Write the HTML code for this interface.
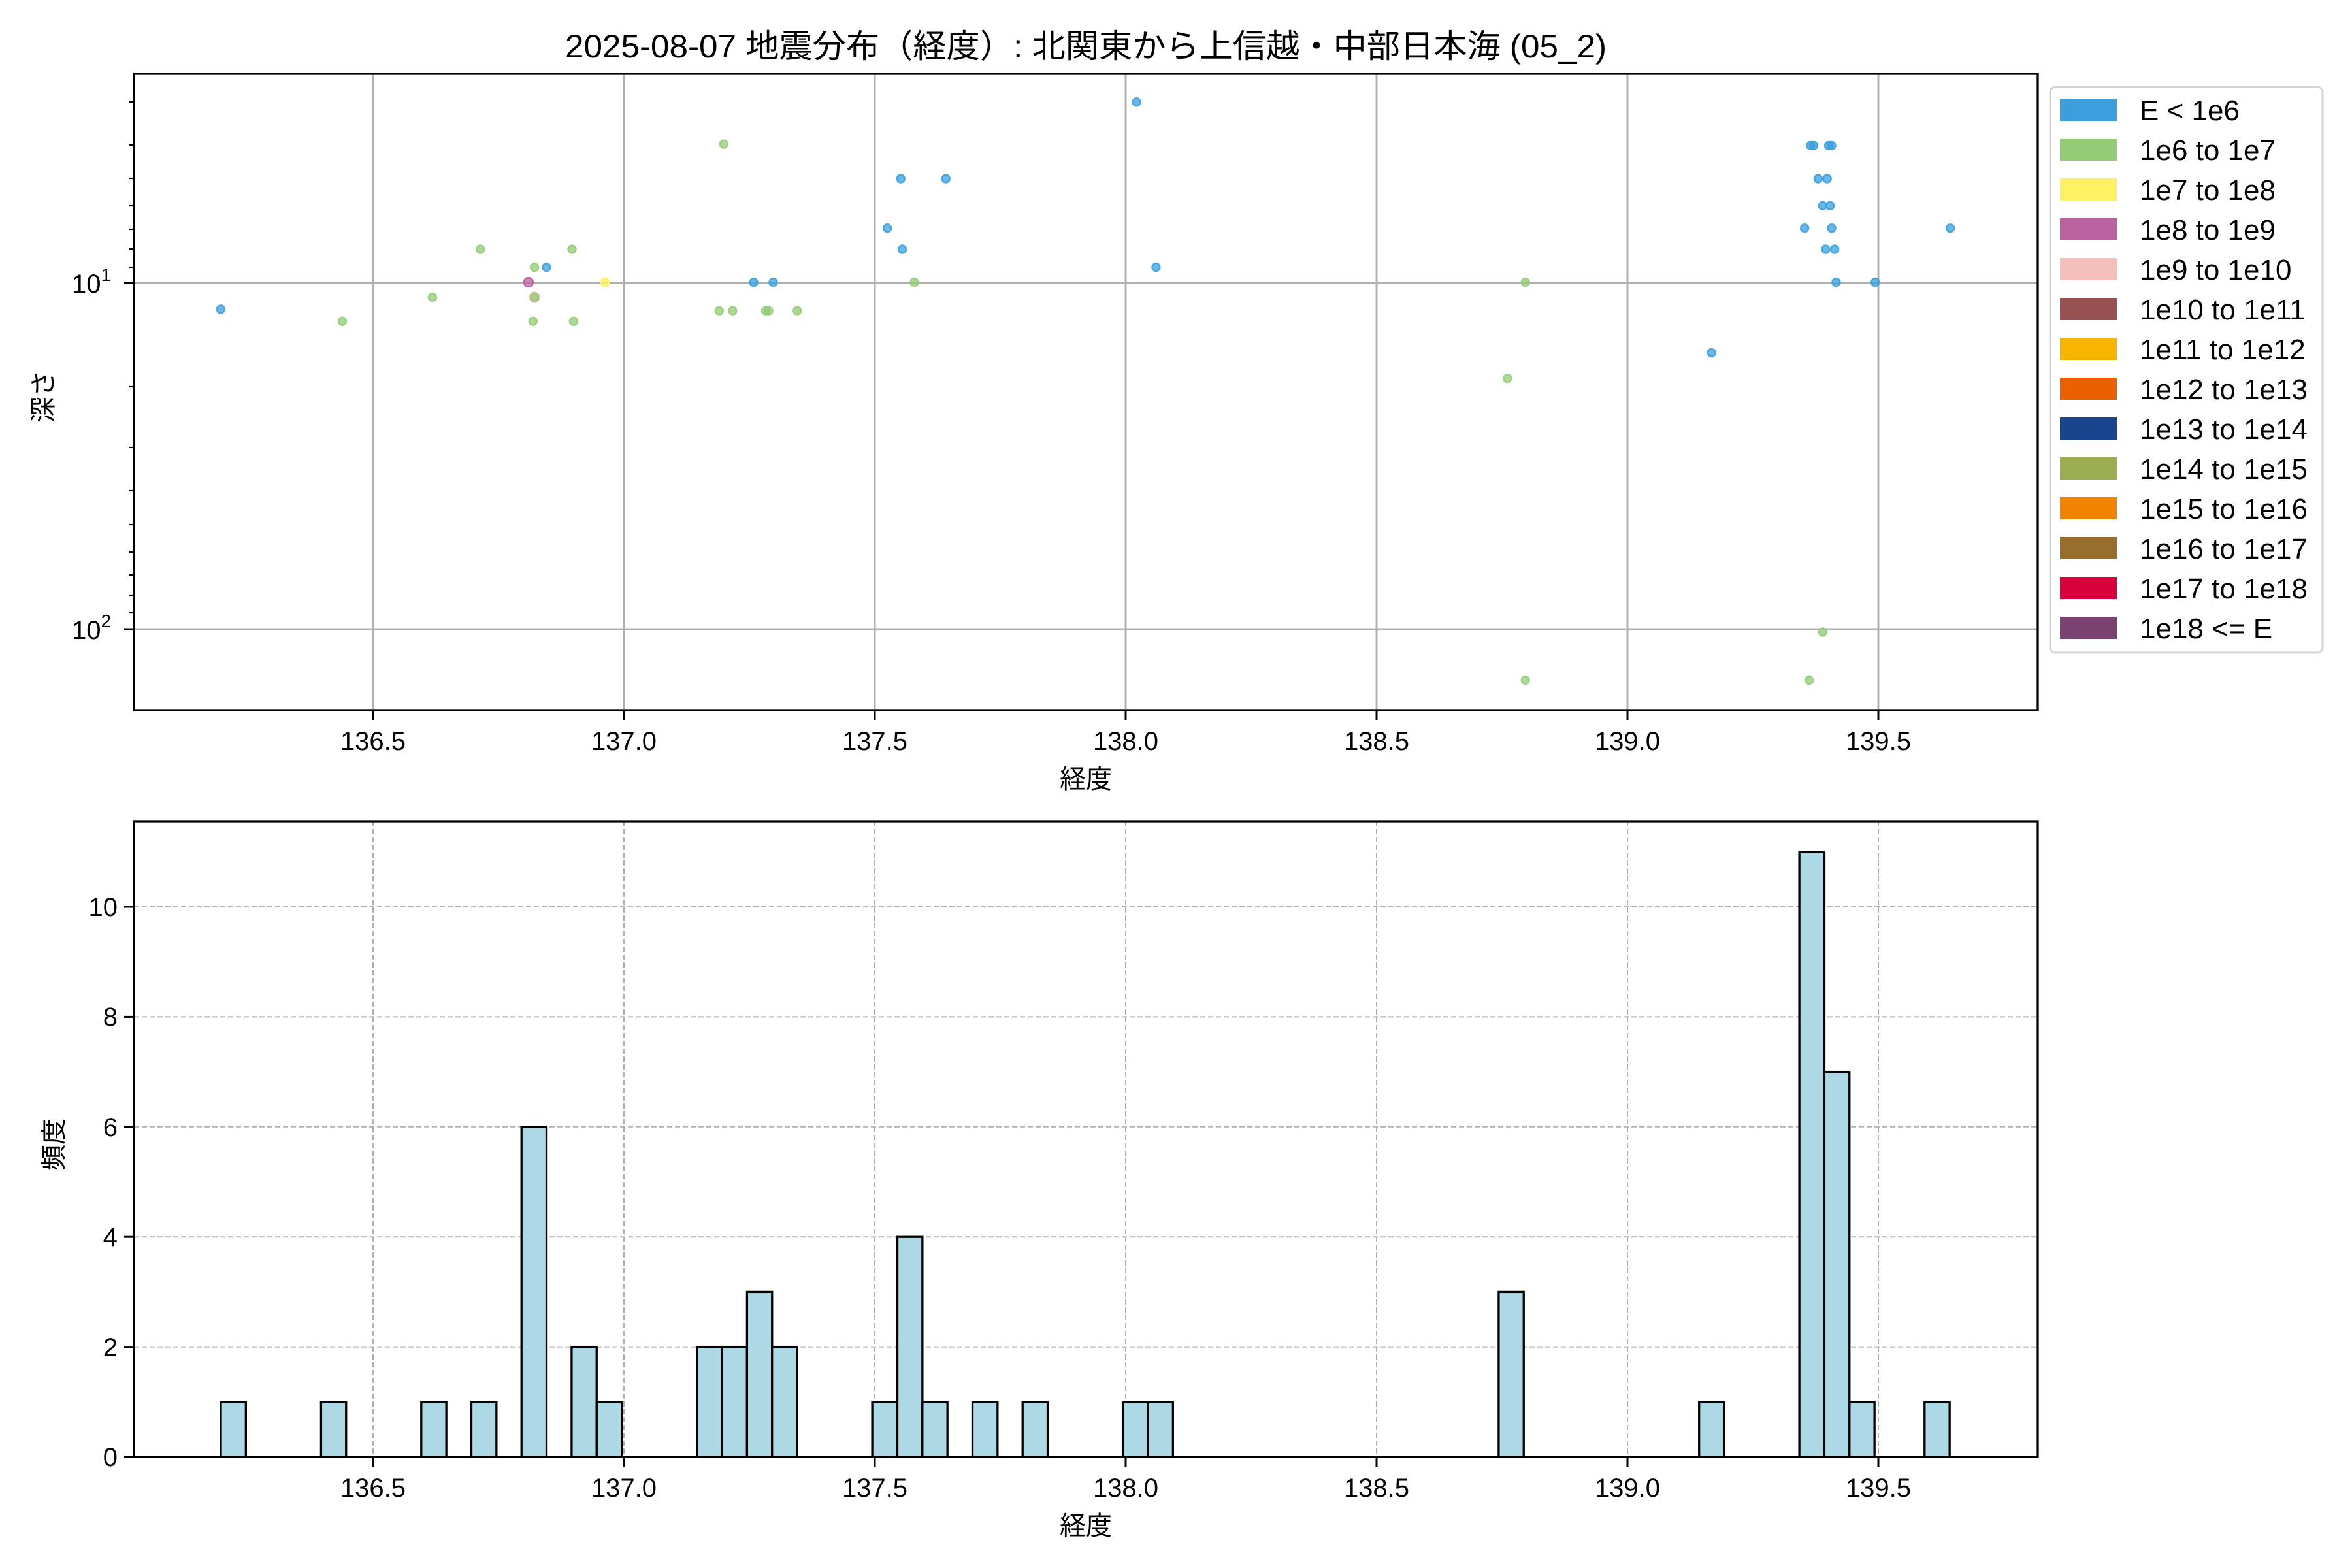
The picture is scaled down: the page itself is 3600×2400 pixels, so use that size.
<!DOCTYPE html>
<html><head><meta charset="utf-8"><style>html,body{margin:0;padding:0;background:#fff}svg{display:block}text{font-family:"Liberation Sans","Noto Sans CJK JP",sans-serif;fill:#000}</style></head>
<body>
<svg width="3600" height="2400" viewBox="0 0 3600 2400" xmlns="http://www.w3.org/2000/svg">
<rect width="3600" height="2400" fill="#fff"/>
<text x="1662" y="88" font-size="50" text-anchor="middle" textLength="1594" lengthAdjust="spacingAndGlyphs">2025-08-07 地震分布（経度）: 北関東から上信越・中部日本海 (05_2)</text>

<!-- TOP AXES -->
<g stroke="#b0b0b0" stroke-width="3">
<line x1="571" y1="113" x2="571" y2="1087"/><line x1="955" y1="113" x2="955" y2="1087"/><line x1="1339" y1="113" x2="1339" y2="1087"/><line x1="1723" y1="113" x2="1723" y2="1087"/><line x1="2107" y1="113" x2="2107" y2="1087"/><line x1="2491" y1="113" x2="2491" y2="1087"/><line x1="2875" y1="113" x2="2875" y2="1087"/>
<line x1="205" y1="433" x2="3119" y2="433"/><line x1="205" y1="963" x2="3119" y2="963"/>
</g>
<g transform="scale(2.298)" stroke-width="1.1">
<g fill="#3a9fdc" stroke="#3a9fdc" fill-opacity="0.75" stroke-opacity="0.85">
<circle cx="147" cy="206" r="2.6"/><circle cx="364" cy="178" r="2.6"/><circle cx="502" cy="188" r="2.6"/><circle cx="515" cy="188" r="2.6"/><circle cx="591" cy="152" r="2.6"/><circle cx="600" cy="119" r="2.6"/><circle cx="601" cy="166" r="2.6"/><circle cx="630" cy="119" r="2.6"/><circle cx="757" cy="68" r="2.6"/><circle cx="770" cy="178" r="2.6"/><circle cx="1140" cy="235" r="2.6"/><circle cx="1202" cy="152" r="2.6"/><circle cx="1206" cy="97" r="2.6"/><circle cx="1208" cy="97" r="2.6"/><circle cx="1211" cy="119" r="2.6"/><circle cx="1214" cy="137" r="2.6"/><circle cx="1216" cy="166" r="2.6"/><circle cx="1217" cy="119" r="2.6"/><circle cx="1218" cy="97" r="2.6"/><circle cx="1219" cy="137" r="2.6"/><circle cx="1220" cy="152" r="2.6"/><circle cx="1222" cy="166" r="2.6"/><circle cx="1223" cy="188" r="2.6"/><circle cx="1249" cy="188" r="2.6"/><circle cx="1299" cy="152" r="2.6"/><circle cx="1220" cy="97" r="2.6"/>
</g>
<circle cx="356" cy="198" r="3.2" fill="#f5bfbc" stroke="#f5bfbc" fill-opacity="0.75"/>
<g fill="#93cb77" stroke="#93cb77" fill-opacity="0.75" stroke-opacity="0.85">
<circle cx="228" cy="214" r="2.6"/><circle cx="288" cy="198" r="2.6"/><circle cx="320" cy="166" r="2.6"/><circle cx="356" cy="178" r="2.6"/><circle cx="356" cy="198" r="2.6"/><circle cx="355" cy="214" r="2.6"/><circle cx="381" cy="166" r="2.6"/><circle cx="382" cy="214" r="2.6"/><circle cx="482" cy="96" r="2.6"/><circle cx="479" cy="207" r="2.6"/><circle cx="488" cy="207" r="2.6"/><circle cx="510" cy="207" r="2.6"/><circle cx="512" cy="207" r="2.6"/><circle cx="531" cy="207" r="2.6"/><circle cx="609" cy="188" r="2.6"/><circle cx="1016" cy="188" r="2.6"/><circle cx="1004" cy="252" r="2.6"/><circle cx="1214" cy="421" r="2.6"/><circle cx="1016" cy="453" r="2.6"/><circle cx="1205" cy="453" r="2.6"/>
</g>
<circle cx="352" cy="188" r="3" fill="#ba629f" stroke="#ba629f" fill-opacity="0.75"/>
<circle cx="403" cy="188" r="2.6" fill="#fef262" stroke="#fef262" fill-opacity="0.8"/>
</g>
<rect x="205" y="113" width="2914" height="974" fill="none" stroke="#000" stroke-width="3.3"/>
<g stroke="#000" stroke-width="3">
<line x1="571" y1="1087" x2="571" y2="1102"/><line x1="955" y1="1087" x2="955" y2="1102"/><line x1="1339" y1="1087" x2="1339" y2="1102"/><line x1="1723" y1="1087" x2="1723" y2="1102"/><line x1="2107" y1="1087" x2="2107" y2="1102"/><line x1="2491" y1="1087" x2="2491" y2="1102"/><line x1="2875" y1="1087" x2="2875" y2="1102"/>
<line x1="190" y1="433" x2="205" y2="433"/><line x1="190" y1="963" x2="205" y2="963"/>
</g>
<g stroke="#000" stroke-width="2.2">
<line x1="197" y1="156" x2="205" y2="156"/><line x1="197" y1="222" x2="205" y2="222"/><line x1="197" y1="273" x2="205" y2="273"/><line x1="197" y1="315" x2="205" y2="315"/><line x1="197" y1="351" x2="205" y2="351"/><line x1="197" y1="381" x2="205" y2="381"/><line x1="197" y1="409" x2="205" y2="409"/>
<line x1="197" y1="592" x2="205" y2="592"/><line x1="197" y1="685" x2="205" y2="685"/><line x1="197" y1="751" x2="205" y2="751"/><line x1="197" y1="803" x2="205" y2="803"/><line x1="197" y1="845" x2="205" y2="845"/><line x1="197" y1="880" x2="205" y2="880"/><line x1="197" y1="911" x2="205" y2="911"/><line x1="197" y1="938" x2="205" y2="938"/>
</g>
<g font-size="40" text-anchor="middle">
<text x="571" y="1148">136.5</text><text x="955" y="1148">137.0</text><text x="1339" y="1148">137.5</text><text x="1723" y="1148">138.0</text><text x="2107" y="1148">138.5</text><text x="2491" y="1148">139.0</text><text x="2875" y="1148">139.5</text>
<text x="1662" y="1206">経度</text>
</g>
<text x="140" y="448" font-size="40" text-anchor="middle">10<tspan font-size="28" dy="-18">1</tspan></text>
<text x="140" y="978" font-size="40" text-anchor="middle">10<tspan font-size="28" dy="-18">2</tspan></text>
<text x="0" y="0" font-size="40" text-anchor="middle" transform="translate(80,607) rotate(-90)">深さ</text>

<!-- LEGEND -->
<rect x="3138" y="133" width="417" height="866" rx="8" fill="#fff" stroke="#d5d5d5" stroke-width="3"/>
<g>
<rect x="3153" y="151" width="87" height="34" fill="#3a9fdc"/>
<rect x="3153" y="212" width="87" height="34" fill="#93cb77"/>
<rect x="3153" y="273" width="87" height="34" fill="#fef262"/>
<rect x="3153" y="334" width="87" height="34" fill="#ba629f"/>
<rect x="3153" y="395" width="87" height="34" fill="#f5bfbc"/>
<rect x="3153" y="456" width="87" height="34" fill="#975150"/>
<rect x="3153" y="517" width="87" height="34" fill="#f7b500"/>
<rect x="3153" y="578" width="87" height="34" fill="#eb6101"/>
<rect x="3153" y="639" width="87" height="34" fill="#19448e"/>
<rect x="3153" y="700" width="87" height="34" fill="#9cac51"/>
<rect x="3153" y="761" width="87" height="34" fill="#f08300"/>
<rect x="3153" y="822" width="87" height="34" fill="#976e2c"/>
<rect x="3153" y="883" width="87" height="34" fill="#d7003a"/>
<rect x="3153" y="944" width="87" height="34" fill="#7a4171"/>
</g>
<g font-size="44">
<text x="3275" y="184">E &lt; 1e6</text>
<text x="3275" y="245">1e6 to 1e7</text>
<text x="3275" y="306">1e7 to 1e8</text>
<text x="3275" y="367">1e8 to 1e9</text>
<text x="3275" y="428">1e9 to 1e10</text>
<text x="3275" y="489">1e10 to 1e11</text>
<text x="3275" y="550">1e11 to 1e12</text>
<text x="3275" y="611">1e12 to 1e13</text>
<text x="3275" y="672">1e13 to 1e14</text>
<text x="3275" y="733">1e14 to 1e15</text>
<text x="3275" y="794">1e15 to 1e16</text>
<text x="3275" y="855">1e16 to 1e17</text>
<text x="3275" y="916">1e17 to 1e18</text>
<text x="3275" y="977">1e18 &lt;= E</text>
</g>

<!-- BOTTOM AXES -->
<g stroke="#b0b0b0" stroke-width="2" stroke-dasharray="8,4">
<line x1="571" y1="1257" x2="571" y2="2230"/><line x1="955" y1="1257" x2="955" y2="2230"/><line x1="1339" y1="1257" x2="1339" y2="2230"/><line x1="1723" y1="1257" x2="1723" y2="2230"/><line x1="2107" y1="1257" x2="2107" y2="2230"/><line x1="2491" y1="1257" x2="2491" y2="2230"/><line x1="2875" y1="1257" x2="2875" y2="2230"/>
<line x1="205" y1="2061.6" x2="3119" y2="2061.6"/><line x1="205" y1="1893.2" x2="3119" y2="1893.2"/><line x1="205" y1="1724.8" x2="3119" y2="1724.8"/><line x1="205" y1="1556.4" x2="3119" y2="1556.4"/><line x1="205" y1="1388" x2="3119" y2="1388"/>
</g>
<g fill="#add8e6" stroke="#000" stroke-width="3.3">
<rect x="338.0" y="2145.8" width="38.35" height="84.2"/>
<rect x="491.4" y="2145.8" width="38.35" height="84.2"/>
<rect x="644.8" y="2145.8" width="38.35" height="84.2"/>
<rect x="721.5" y="2145.8" width="38.35" height="84.2"/>
<rect x="798.2" y="1724.8" width="38.35" height="505.2"/>
<rect x="874.9" y="2061.6" width="38.35" height="168.4"/>
<rect x="913.3" y="2145.8" width="38.35" height="84.2"/>
<rect x="1066.7" y="2061.6" width="38.35" height="168.4"/>
<rect x="1105.0" y="2061.6" width="38.35" height="168.4"/>
<rect x="1143.4" y="1977.4" width="38.35" height="252.6"/>
<rect x="1181.7" y="2061.6" width="38.35" height="168.4"/>
<rect x="1335.1" y="2145.8" width="38.35" height="84.2"/>
<rect x="1373.5" y="1893.2" width="38.35" height="336.8"/>
<rect x="1411.8" y="2145.8" width="38.35" height="84.2"/>
<rect x="1488.5" y="2145.8" width="38.35" height="84.2"/>
<rect x="1565.2" y="2145.8" width="38.35" height="84.2"/>
<rect x="1718.6" y="2145.8" width="38.35" height="84.2"/>
<rect x="1757.0" y="2145.8" width="38.35" height="84.2"/>
<rect x="2293.9" y="1977.4" width="38.35" height="252.6"/>
<rect x="2600.7" y="2145.8" width="38.35" height="84.2"/>
<rect x="2754.1" y="1303.8" width="38.35" height="926.2"/>
<rect x="2792.4" y="1640.6" width="38.35" height="589.4"/>
<rect x="2830.8" y="2145.8" width="38.35" height="84.2"/>
<rect x="2945.8" y="2145.8" width="38.35" height="84.2"/>
</g>
<line x1="338" y1="2230" x2="2984" y2="2230" stroke="#000" stroke-width="3.3"/>
<rect x="205" y="1257" width="2914" height="973" fill="none" stroke="#000" stroke-width="3.3"/>
<g stroke="#000" stroke-width="3">
<line x1="571" y1="2230" x2="571" y2="2245"/><line x1="955" y1="2230" x2="955" y2="2245"/><line x1="1339" y1="2230" x2="1339" y2="2245"/><line x1="1723" y1="2230" x2="1723" y2="2245"/><line x1="2107" y1="2230" x2="2107" y2="2245"/><line x1="2491" y1="2230" x2="2491" y2="2245"/><line x1="2875" y1="2230" x2="2875" y2="2245"/>
<line x1="190" y1="2230" x2="205" y2="2230"/><line x1="190" y1="2061.6" x2="205" y2="2061.6"/><line x1="190" y1="1893.2" x2="205" y2="1893.2"/><line x1="190" y1="1724.8" x2="205" y2="1724.8"/><line x1="190" y1="1556.4" x2="205" y2="1556.4"/><line x1="190" y1="1388" x2="205" y2="1388"/>
</g>
<g font-size="40" text-anchor="middle">
<text x="571" y="2291">136.5</text><text x="955" y="2291">137.0</text><text x="1339" y="2291">137.5</text><text x="1723" y="2291">138.0</text><text x="2107" y="2291">138.5</text><text x="2491" y="2291">139.0</text><text x="2875" y="2291">139.5</text>
<text x="1662" y="2349">経度</text>
</g>
<g font-size="40" text-anchor="end">
<text x="180" y="2244">0</text><text x="180" y="2076">2</text><text x="180" y="1907">4</text><text x="180" y="1739">6</text><text x="180" y="1570">8</text><text x="180" y="1402">10</text>
</g>
<text x="0" y="0" font-size="40" text-anchor="middle" transform="translate(96,1752) rotate(-90)">頻度</text>
</svg>
</body></html>
